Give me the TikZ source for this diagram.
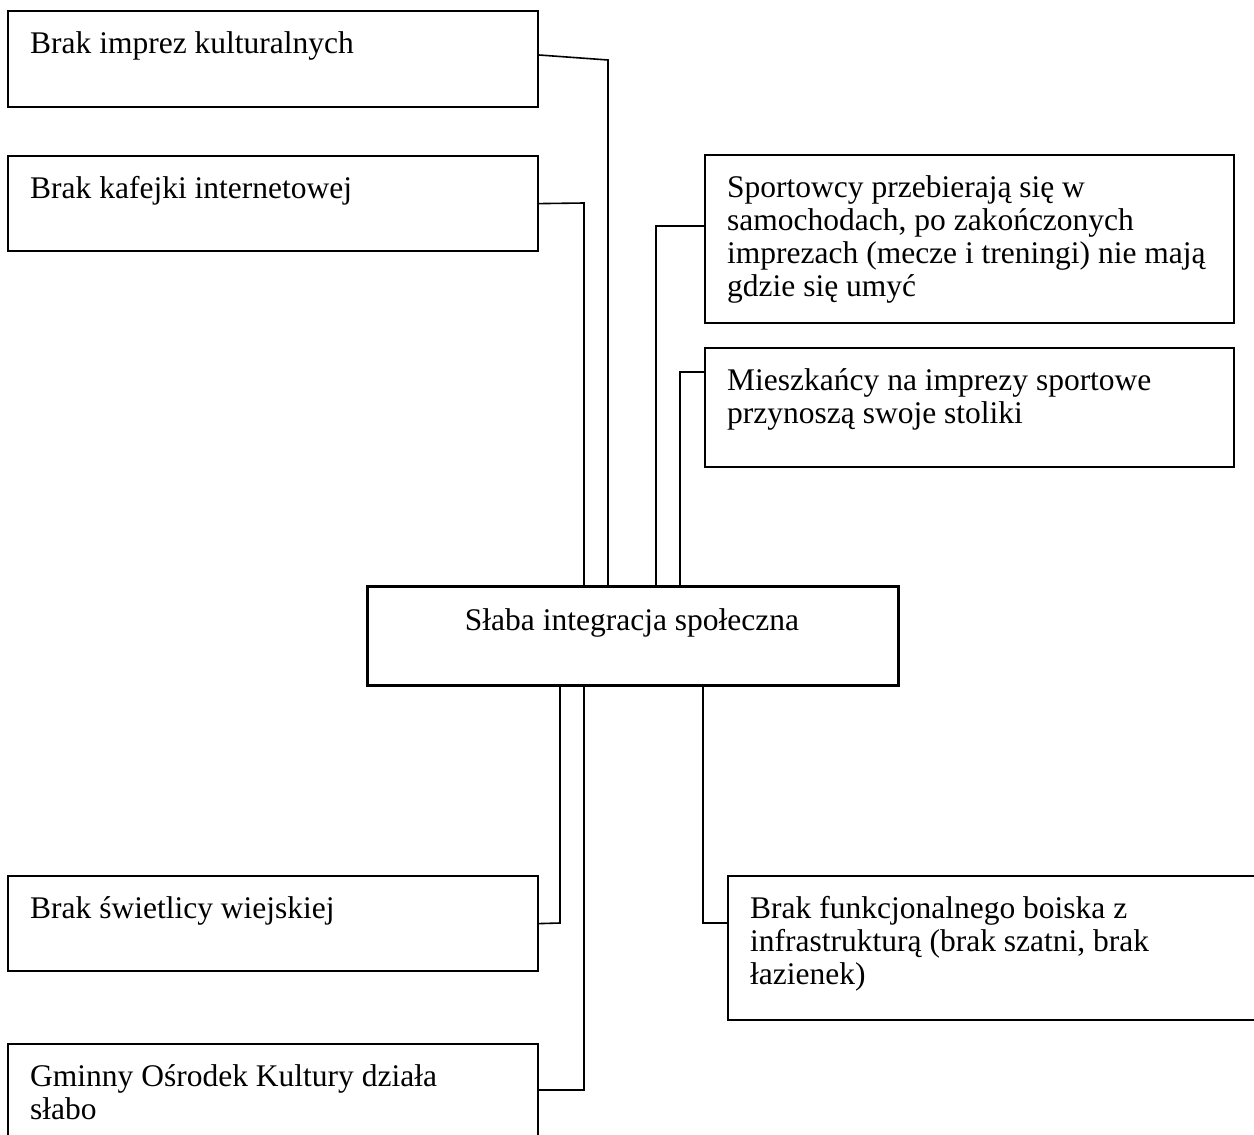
\documentclass[tikz,border=0pt]{standalone}
\usepackage{fontspec}
\setmainfont{Liberation Serif}
\usetikzlibrary{calc}
\newcommand\boxfont{\fontsize{31.5}{33}\selectfont}
\begin{document}
\begin{tikzpicture}[x=1pt,y=-1pt,
  box/.style={draw, line width=2.2pt, inner sep=0pt, anchor=north west},
  mainbox/.style={draw, line width=3.2pt, inner sep=0pt, anchor=north west},
  lbl/.style={anchor=base west, inner sep=0pt, align=left, font=\boxfont},
  link/.style={line width=1.6pt}]
\useasboundingbox (0,0) rectangle (1254,1135);
\clip (0,0) rectangle (1254,1135);
\fill[white] (0,0) rectangle (1254,1135);

% boxes
\node[box, minimum width=530pt, minimum height=96pt] (b1) at (7,10) {};
\node[box, minimum width=530pt, minimum height=95pt] (b2) at (7,155) {};
\node[box, minimum width=529pt, minimum height=168pt] (b3) at (704,154) {};
\node[box, minimum width=529pt, minimum height=119pt] (b4) at (704,347) {};
\node[mainbox, minimum width=531pt, minimum height=99pt] (cen) at (366,585) {};
\node[box, minimum width=530pt, minimum height=95pt] (b5) at (7,875) {};
\node[box, minimum width=530pt, minimum height=120pt] (b6) at (7,1043) {};
\node[box, minimum width=560pt, minimum height=144pt] (b7) at (727,875) {};

% texts (base = baseline of the last line)
\node[lbl] (t1) at (30,53) {Brak imprez kulturalnych};
\node[lbl] (t2) at (30,198) {Brak kafejki internetowej};
\node[lbl] (t3) at (727,296) {Sportowcy przebierają się w\\samochodach, po zakończonych\\imprezach (mecze i treningi) nie mają\\gdzie się umyć};
\node[lbl] (t4) at (727,423) {Mieszkańcy na imprezy sportowe\\przynoszą swoje stoliki};
\node[anchor=base, inner sep=0pt, font=\boxfont] (tc) at (632,630) {Słaba integracja społeczna};
\node[lbl] (t5) at (30,918) {Brak świetlicy wiejskiej};
\node[lbl] (t6) at (30,1119) {Gminny Ośrodek Kultury działa\\słabo};
\node[lbl] (t7) at (750,984) {Brak funkcjonalnego boiska z\\infrastrukturą (brak szatni, brak\\łazienek)};

% connector corners
\coordinate (v1) at (608,60);
\coordinate (v2) at (584,203);
\coordinate (v3) at (656,226);
\coordinate (v4) at (680,372);
\coordinate (v5) at (560,923);
\coordinate (v6) at (584,1090);
\coordinate (v7) at (703,923);

% connectors
\draw[link] ($(b1.north east)+(0,45)$) -- (v1) -- (v1 |- cen.north);
\draw[link] (b2.east) -- (v2) -- (v2 |- cen.north);
\draw[link] ($(b3.north west)+(0,72)$) -- (v3) -- (v3 |- cen.north);
\draw[link] ($(b4.north west)+(0,25)$) -- (v4) -- (v4 |- cen.north);
\draw[link] (b5.east) -- (v5) -- (v5 |- cen.south);
\draw[link] ($(b6.north east)+(0,47)$) -- (v6) -- (v6 |- cen.south);
\draw[link] ($(b7.north west)+(0,48)$) -- (v7) -- (v7 |- cen.south);
\end{tikzpicture}
\end{document}
